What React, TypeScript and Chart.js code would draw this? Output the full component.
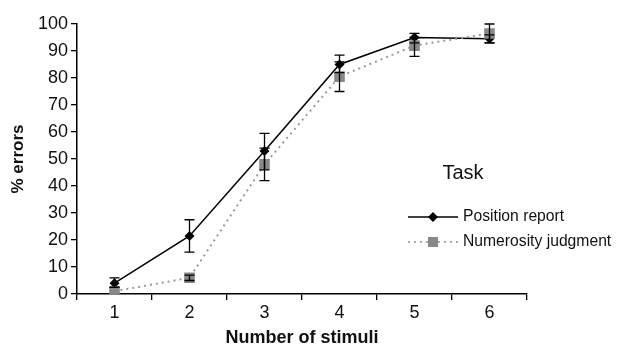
import React, { useEffect, useRef } from "react";
import { Chart, registerables } from "chart.js";

Chart.register(...registerables);

const categories = ["1", "2", "3", "4", "5", "6"];
const positionReport = [4, 21.5, 53, 85, 95, 94.5];
const positionLow = [2.5, 15.5, 46, 82, 93, 93];
const positionHigh = [6, 27.5, 59.5, 88.5, 96.5, 96];
const numerosity = [1, 6, 48, 80.5, 92, 96.5];
const numerosityLow = [0.5, 5, 42, 75, 88, 93];
const numerosityHigh = [1.5, 7, 54, 86, 95, 100];
const yTicks = [0, 10, 20, 30, 40, 50, 60, 70, 80, 90, 100];

const FONT = "'Liberation Sans', Arial, Helvetica, sans-serif";

const errorBarPlugin = {
  id: "errorBars",
  afterDatasetsDraw(chart: any) {
    const ctx = chart.ctx;
    const y = chart.scales.y;
    chart.data.datasets.forEach((ds: any, i: number) => {
      const meta = chart.getDatasetMeta(i);
      if (!ds.errLow) return;
      meta.data.forEach((pt: any, j: number) => {
        const lo = ds.errLow[j];
        const hi = ds.errHigh[j];
        if (lo == null || hi == null || hi - lo < 1.2) return;
        const x = pt.x;
        const y1 = y.getPixelForValue(lo);
        const y2 = y.getPixelForValue(hi);
        ctx.save();
        ctx.strokeStyle = "#000";
        ctx.lineWidth = 1.3;
        ctx.beginPath();
        ctx.moveTo(x, y1);
        ctx.lineTo(x, y2);
        ctx.moveTo(x - 5, y1);
        ctx.lineTo(x + 5, y1);
        ctx.moveTo(x - 5, y2);
        ctx.lineTo(x + 5, y2);
        ctx.stroke();
        ctx.restore();
      });
    });
  },
};

const legendPlugin = {
  id: "customLegend",
  afterDraw(chart: any) {
    const ctx = chart.ctx;
    ctx.save();
    ctx.fillStyle = "#111";
    ctx.textBaseline = "middle";
    ctx.textAlign = "center";
    ctx.font = `20px ${FONT}`;
    ctx.fillText("Task", 463, 173);
    ctx.font = `15.7px ${FONT}`;
    ctx.textAlign = "left";
    // Position report
    ctx.strokeStyle = "#000";
    ctx.lineWidth = 1.5;
    ctx.setLineDash([]);
    ctx.beginPath();
    ctx.moveTo(408, 217);
    ctx.lineTo(458, 217);
    ctx.stroke();
    ctx.fillStyle = "#000";
    ctx.beginPath();
    ctx.moveTo(433, 212);
    ctx.lineTo(438, 217);
    ctx.lineTo(433, 222);
    ctx.lineTo(428, 217);
    ctx.closePath();
    ctx.fill();
    ctx.fillStyle = "#111";
    ctx.fillText("Position report", 463, 217);
    // Numerosity
    ctx.strokeStyle = "#aaa";
    ctx.lineWidth = 2;
    ctx.setLineDash([2, 4]);
    ctx.beginPath();
    ctx.moveTo(408, 242);
    ctx.lineTo(458, 242);
    ctx.stroke();
    ctx.setLineDash([]);
    ctx.fillStyle = "#888";
    ctx.fillRect(428, 237, 10, 10);
    ctx.fillStyle = "#111";
    ctx.fillText("Numerosity judgment", 463, 242);
    ctx.restore();
  },
};

export default function App() {
  const ref = useRef<HTMLCanvasElement | null>(null);
  useEffect(() => {
    if (!ref.current) return;
    const chart = new Chart(ref.current, {
      type: "line",
      data: {
        labels: categories,
        datasets: [
          {
            label: "Numerosity judgment",
            data: numerosity,
            errLow: numerosityLow,
            errHigh: numerosityHigh,
            borderColor: "#999",
            borderWidth: 2,
            borderDash: [2, 4],
            pointStyle: "rect",
            pointRadius: 7.5,
            pointBackgroundColor: "#888",
            pointBorderColor: "#888",
            pointBorderWidth: 0,
            tension: 0,
          } as any,
          {
            label: "Position report",
            data: positionReport,
            errLow: positionLow,
            errHigh: positionHigh,
            borderColor: "#000",
            borderWidth: 1.5,
            pointStyle: "rectRot",
            pointRadius: 5,
            pointBackgroundColor: "#000",
            pointBorderColor: "#000",
            pointBorderWidth: 0,
            tension: 0,
          } as any,
        ],
      },
      options: {
        animation: false,
        responsive: false,
        maintainAspectRatio: false,
        layout: { padding: { top: 24, right: 90, left: 0, bottom: 0 } },
        plugins: {
          legend: { display: false },
          tooltip: { enabled: false },
        },
        scales: {
          x: {
            type: "category",
            offset: true,
            grid: {
              offset: true,
              drawOnChartArea: false,
              drawTicks: true,
              tickLength: 6,
              color: "#000",
              lineWidth: 1.3,
            },
            border: { color: "#000", width: 1.5 },
            ticks: {
              color: "#111",
              font: { family: FONT, size: 18 },
              padding: 2,
            },
            title: {
              display: true,
              text: "Number of stimuli",
              color: "#111",
              font: { family: FONT, size: 18, weight: "bold" },
              padding: { top: 4, bottom: 0 },
            },
            afterFit(scale: any) {
              scale.height = 55;
            },
          },
          y: {
            min: 0,
            max: 100,
            afterBuildTicks(scale: any) {
              scale.ticks = yTicks.map((v) => ({ value: v }));
            },
            grid: {
              drawOnChartArea: false,
              drawTicks: true,
              tickLength: 6,
              color: "#000",
              lineWidth: 1.3,
            },
            border: { color: "#000", width: 1.5 },
            ticks: {
              color: "#111",
              font: { family: FONT, size: 18 },
              padding: 3,
            },
            title: {
              display: true,
              text: "% errors",
              color: "#111",
              font: { family: FONT, size: 17, weight: "bold" },
              padding: { top: 8, bottom: 4 },
            },
            afterFit(scale: any) {
              scale.width = 77;
            },
          },
        },
      },
      plugins: [errorBarPlugin, legendPlugin],
    } as any);
    return () => chart.destroy();
  }, []);
  return (
    <div style={{ position: "fixed", left: 0, top: 0, width: 617, height: 349, background: "#fff" }}>
      <canvas ref={ref} width={617} height={349} style={{ width: 617, height: 349, display: "block" }} />
    </div>
  );
}
